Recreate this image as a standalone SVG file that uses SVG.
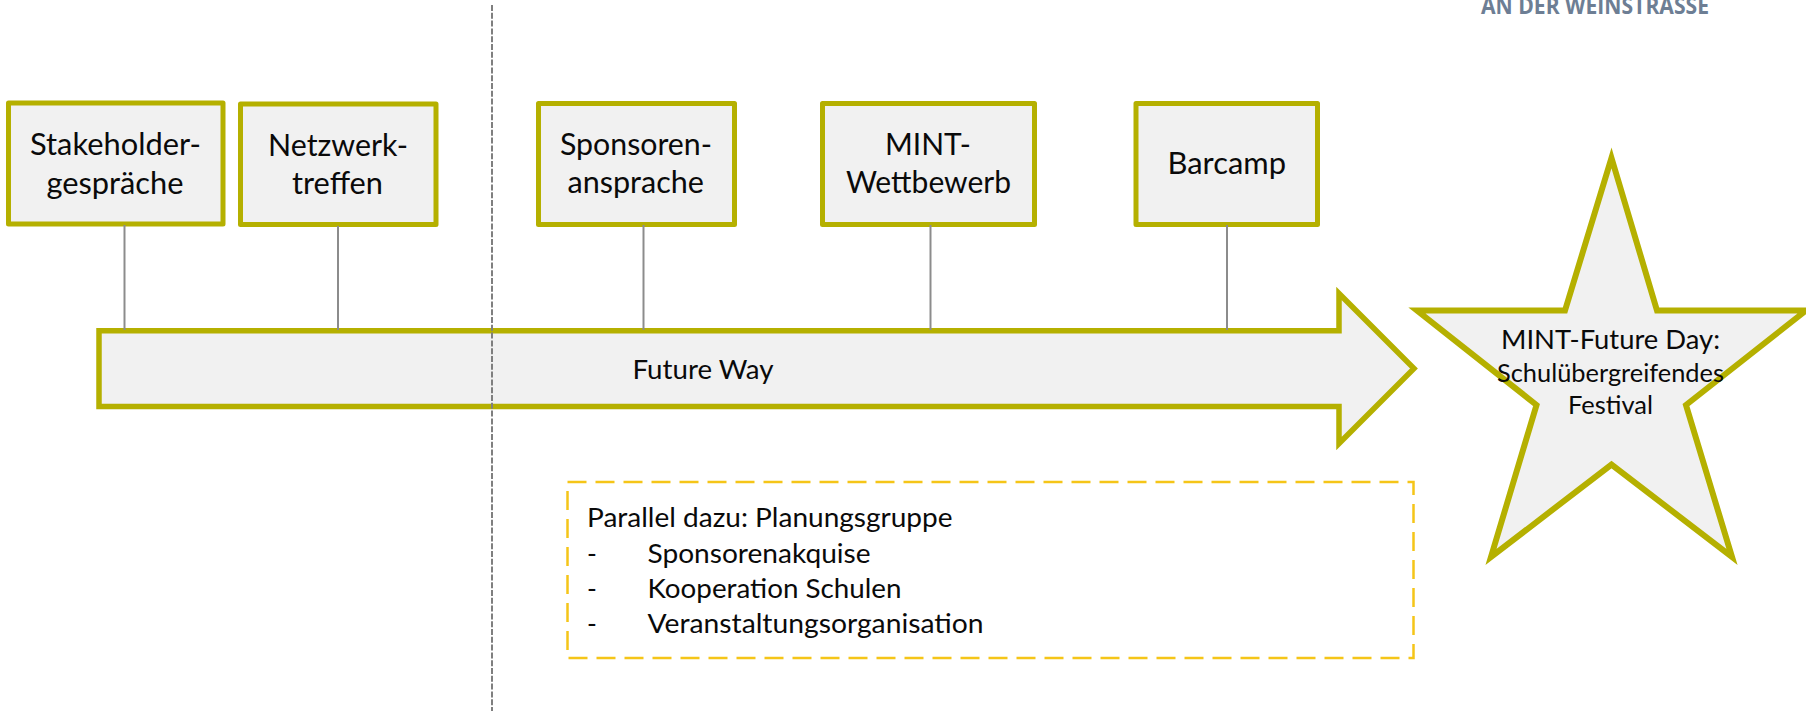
<svg xmlns="http://www.w3.org/2000/svg" width="1806" height="712" viewBox="0 0 1806 712">
<style>
.shape{fill:#f1f1f1;stroke:#b5b000;stroke-width:5}
.box{stroke-linejoin:round}
.shape-m{stroke-linejoin:miter;stroke-miterlimit:12}
text{font-family:"Lato","Liberation Sans",sans-serif;font-size:30px;fill:#0a0a0a}
.sm{font-size:26.500px}
.xs{font-size:25px}
.c{stroke:#8c8c8c;stroke-width:2;fill:none}
.sep{stroke:#7f7f7f;stroke-width:2;stroke-dasharray:6 1.800;fill:none}
text.logo{font-family:"Open Sans","Liberation Sans",sans-serif;font-size:23px;font-weight:700;fill:#6d7e94}
</style>
<rect width="1806" height="712" fill="#ffffff"/>
<text class="logo" x="1481" y="13.500" textLength="228" lengthAdjust="spacingAndGlyphs">AN DER WEINSTRASSE</text>
<g id="node-arrow"><polygon class="shape shape-m" style="stroke-width:5.500" points="99,330.700 1339,330.700 1339,293.500 1414,368.500 1339,443.500 1339,406.500 99,406.500"/>
<text class="sm" x="632.500" y="378.500" textLength="141" lengthAdjust="spacingAndGlyphs">Future Way</text></g>
<g id="node-stakeholder"><rect class="shape box" x="8.500" y="103" width="214.500" height="121"/>
<text x="30" y="155" textLength="171" lengthAdjust="spacingAndGlyphs">Stakeholder-</text>
<text x="46.500" y="194" textLength="137" lengthAdjust="spacingAndGlyphs">gespräche</text></g>
<g id="node-netzwerk"><rect class="shape box" x="240.500" y="104" width="195.500" height="120.500"/>
<text x="268" y="156" textLength="140" lengthAdjust="spacingAndGlyphs">Netzwerk-</text>
<text x="292" y="194" textLength="91" lengthAdjust="spacingAndGlyphs">treffen</text></g>
<g id="node-sponsoren"><rect class="shape box" x="538.500" y="103.500" width="196" height="121"/>
<text x="560" y="155" textLength="152" lengthAdjust="spacingAndGlyphs">Sponsoren-</text>
<text x="567.500" y="193" textLength="136.500" lengthAdjust="spacingAndGlyphs">ansprache</text></g>
<g id="node-mint"><rect class="shape box" x="822.500" y="103.500" width="212" height="121"/>
<text x="885" y="155" textLength="86" lengthAdjust="spacingAndGlyphs">MINT-</text>
<text x="846" y="193" textLength="165" lengthAdjust="spacingAndGlyphs">Wettbewerb</text></g>
<g id="node-barcamp"><rect class="shape box" x="1136" y="103.500" width="181.500" height="121"/>
<text x="1167.500" y="174" textLength="118.500" lengthAdjust="spacingAndGlyphs">Barcamp</text></g>
<g id="node-star"><polygon class="shape shape-m" style="stroke-width:6" points="1611.500,158 1657,310.500 1806,310.500 1686,405 1732,557 1611.500,464.500 1491,557 1536.500,405 1417,310.500 1565,310.500"/>
<text class="sm" x="1501" y="349" textLength="219" lengthAdjust="spacingAndGlyphs">MINT-Future Day:</text>
<text class="xs" x="1497" y="382" textLength="227" lengthAdjust="spacingAndGlyphs">Schulübergreifendes</text>
<text class="xs" x="1568" y="414" textLength="85" lengthAdjust="spacingAndGlyphs">Festival</text></g>
<g id="node-planung"><rect x="567.500" y="482" width="846" height="176" fill="none" stroke="#f5c518" stroke-width="2.500" stroke-dasharray="19 9"/>
<text class="sm" x="587" y="527" textLength="365.500" lengthAdjust="spacingAndGlyphs">Parallel dazu: Planungsgruppe</text>
<text class="sm" x="587" y="562.500">-</text><text class="sm" x="647.500" y="562.500" textLength="223" lengthAdjust="spacingAndGlyphs">Sponsorenakquise</text>
<text class="sm" x="587" y="598">-</text><text class="sm" x="647.500" y="598" textLength="254" lengthAdjust="spacingAndGlyphs">Kooperation Schulen</text>
<text class="sm" x="587" y="633">-</text><text class="sm" x="647.500" y="633" textLength="336" lengthAdjust="spacingAndGlyphs">Veranstaltungsorganisation</text></g>
<g id="connectors">
<line class="c" x1="124.500" y1="225" x2="124.500" y2="330"/>
<line class="c" x1="338" y1="226" x2="338" y2="330"/>
<line class="c" x1="643.500" y1="225" x2="643.500" y2="330"/>
<line class="c" x1="930.500" y1="225" x2="930.500" y2="330"/>
<line class="c" x1="1227" y1="225" x2="1227" y2="330"/>
<line class="sep" x1="492" y1="5" x2="492" y2="711"/>
</g>
</svg>
